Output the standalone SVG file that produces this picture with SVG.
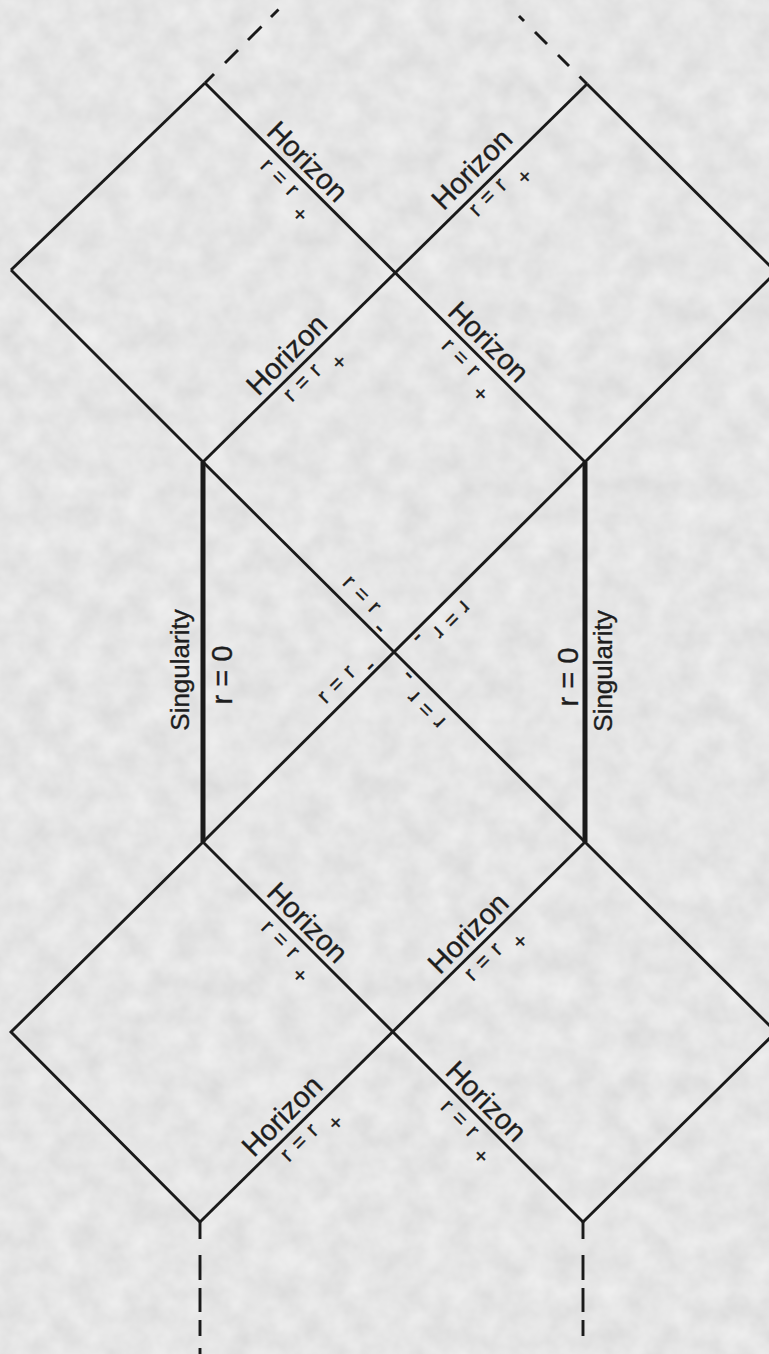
<svg xmlns="http://www.w3.org/2000/svg" width="769" height="1354" viewBox="0 0 769 1354">
  <defs>
    <filter id="paper" x="0" y="0" width="769" height="1354" filterUnits="userSpaceOnUse" color-interpolation-filters="sRGB">
      <feTurbulence type="fractalNoise" baseFrequency="0.04" numOctaves="3" seed="7"/>
      <feColorMatrix type="matrix" values="0.09 0 0 0 0.855  0.09 0 0 0 0.855  0.09 0 0 0 0.855  0 0 0 0 1"/>
    </filter>
    <style>
      .ln { fill: none; stroke: #1a1a1a; stroke-width: 2.9; stroke-linecap: butt; stroke-linejoin: miter; }
      .sing { fill: none; stroke: #1a1a1a; stroke-width: 5; }
      .dash { fill: none; stroke: #1a1a1a; stroke-width: 2.9; }
      text { font-family: "Liberation Sans", Arial, Helvetica, sans-serif; fill: #1e1e1e; stroke: #1e1e1e; stroke-width: 0.35; }
      .hz { font-size: 29px; text-anchor: middle; }
      .rr { font-size: 22px; text-anchor: middle; letter-spacing: 1px; }
      .sub { font-size: 22px; text-anchor: middle; }
      .dsh { font-size: 26px; text-anchor: middle; }
      .sg { font-size: 26px; text-anchor: middle; }
      .r0 { font-size: 29px; text-anchor: middle; }
    </style>
  </defs>

  <rect id="background" x="0" y="0" width="769" height="1354" fill="#e6e6e6" filter="url(#paper)"/>

  <g id="connectors">
    <path class="ln" d="M11,270 L205,83"/>
    <path class="ln" d="M205,83 L585,462"/>
    <path class="ln" d="M11,270 L203,462"/>
    <path class="ln" d="M203,462 L587,84"/>
    <path class="ln" d="M587,84 L776,272 L585,462"/>
    <path class="ln" d="M203,462 L585,842"/>
    <path class="ln" d="M585,462 L203,842"/>
    <path class="ln" d="M203,842 L11,1032 L200,1222"/>
    <path class="ln" d="M203,842 L583,1222"/>
    <path class="ln" d="M585,842 L200,1222"/>
    <path class="ln" d="M585,842 L776,1032 L583,1222"/>
    <path class="sing" d="M203,462 V842"/>
    <path class="sing" d="M585,462 V842"/>
    <path class="dash" d="M205,83 L214,74 M225,63 L238,50 M248,40 L261.5,26.5 M271,17 L278.5,9.5"/>
    <path class="dash" d="M587,84 L579.5,76.5 M569,66 L558,55 M547,44 L535,32 M524,21 L519,16"/>
    <path class="dash" d="M200,1222 V1239 M200,1255 V1280 M200,1288 V1312 M200,1320 V1336 M200,1348 V1354"/>
    <path class="dash" d="M583,1222 V1239 M583,1255 V1280 M583,1288 V1312 M583,1320 V1336"/>
  </g>

  <g id="label-h1" transform="translate(205,83) rotate(45)">
    <text class="hz" x="128" y="-7">Horizon</text>
    <text class="rr" x="120" y="21">r = r</text>
    <text class="sub" x="160" y="33">+</text>
  </g>
  <g id="label-h2" transform="translate(394,271) rotate(-45)">
    <text class="hz" x="127" y="-7">Horizon</text>
    <text class="rr" x="119" y="21">r = r</text>
    <text class="sub" x="159" y="33">+</text>
  </g>
  <g id="label-h3" transform="translate(203,462) rotate(-45)">
    <text class="hz" x="135" y="-7">Horizon</text>
    <text class="rr" x="127" y="21">r = r</text>
    <text class="sub" x="167" y="33">+</text>
  </g>
  <g id="label-h4" transform="translate(394,271) rotate(45)">
    <text class="hz" x="117" y="-7">Horizon</text>
    <text class="rr" x="109" y="21">r = r</text>
    <text class="sub" x="148" y="33">+</text>
  </g>
  <g id="label-h5" transform="translate(203,842) rotate(45)">
    <text class="hz" x="131" y="-7">Horizon</text>
    <text class="rr" x="124" y="21">r = r</text>
    <text class="sub" x="163" y="33">+</text>
  </g>
  <g id="label-h6" transform="translate(393,1032) rotate(-45)">
    <text class="hz" x="123" y="-7">Horizon</text>
    <text class="rr" x="114" y="21">r = r</text>
    <text class="sub" x="154" y="33">+</text>
  </g>
  <g id="label-h7" transform="translate(200,1222) rotate(-45)">
    <text class="hz" x="133" y="-7">Horizon</text>
    <text class="rr" x="127" y="21">r = r</text>
    <text class="sub" x="166" y="33">+</text>
  </g>
  <g id="label-h8" transform="translate(393,1032) rotate(45)">
    <text class="hz" x="115" y="-7">Horizon</text>
    <text class="rr" x="109" y="21">r = r</text>
    <text class="sub" x="150" y="33">+</text>
  </g>

  <g id="label-rminus-ul" transform="translate(394,652) rotate(45)">
    <text class="rr" x="-63" y="-11">r = r</text>
    <text class="dsh" x="-27" y="1">-</text>
  </g>
  <g id="label-rminus-ll" transform="translate(394,652) rotate(-45)">
    <text class="rr" x="-63" y="-11">r = r</text>
    <text class="dsh" x="-27" y="1">-</text>
  </g>
  <g id="label-rminus-ur" transform="translate(394,652) rotate(135)">
    <text class="rr" x="-63" y="-11">r = r</text>
    <text class="dsh" x="-27" y="1">-</text>
  </g>
  <g id="label-rminus-lr" transform="translate(394,652) rotate(225)">
    <text class="rr" x="-63" y="-11">r = r</text>
    <text class="dsh" x="-27" y="1">-</text>
  </g>

  <g id="label-sing-left">
    <text class="sg" transform="translate(189,670) rotate(-90)">Singularity</text>
    <text class="r0" transform="translate(232,675) rotate(-90)">r = 0</text>
  </g>
  <g id="label-sing-right">
    <text class="r0" transform="translate(578,677) rotate(-90)">r = 0</text>
    <text class="sg" transform="translate(612,671) rotate(-90)">Singularity</text>
  </g>
</svg>
